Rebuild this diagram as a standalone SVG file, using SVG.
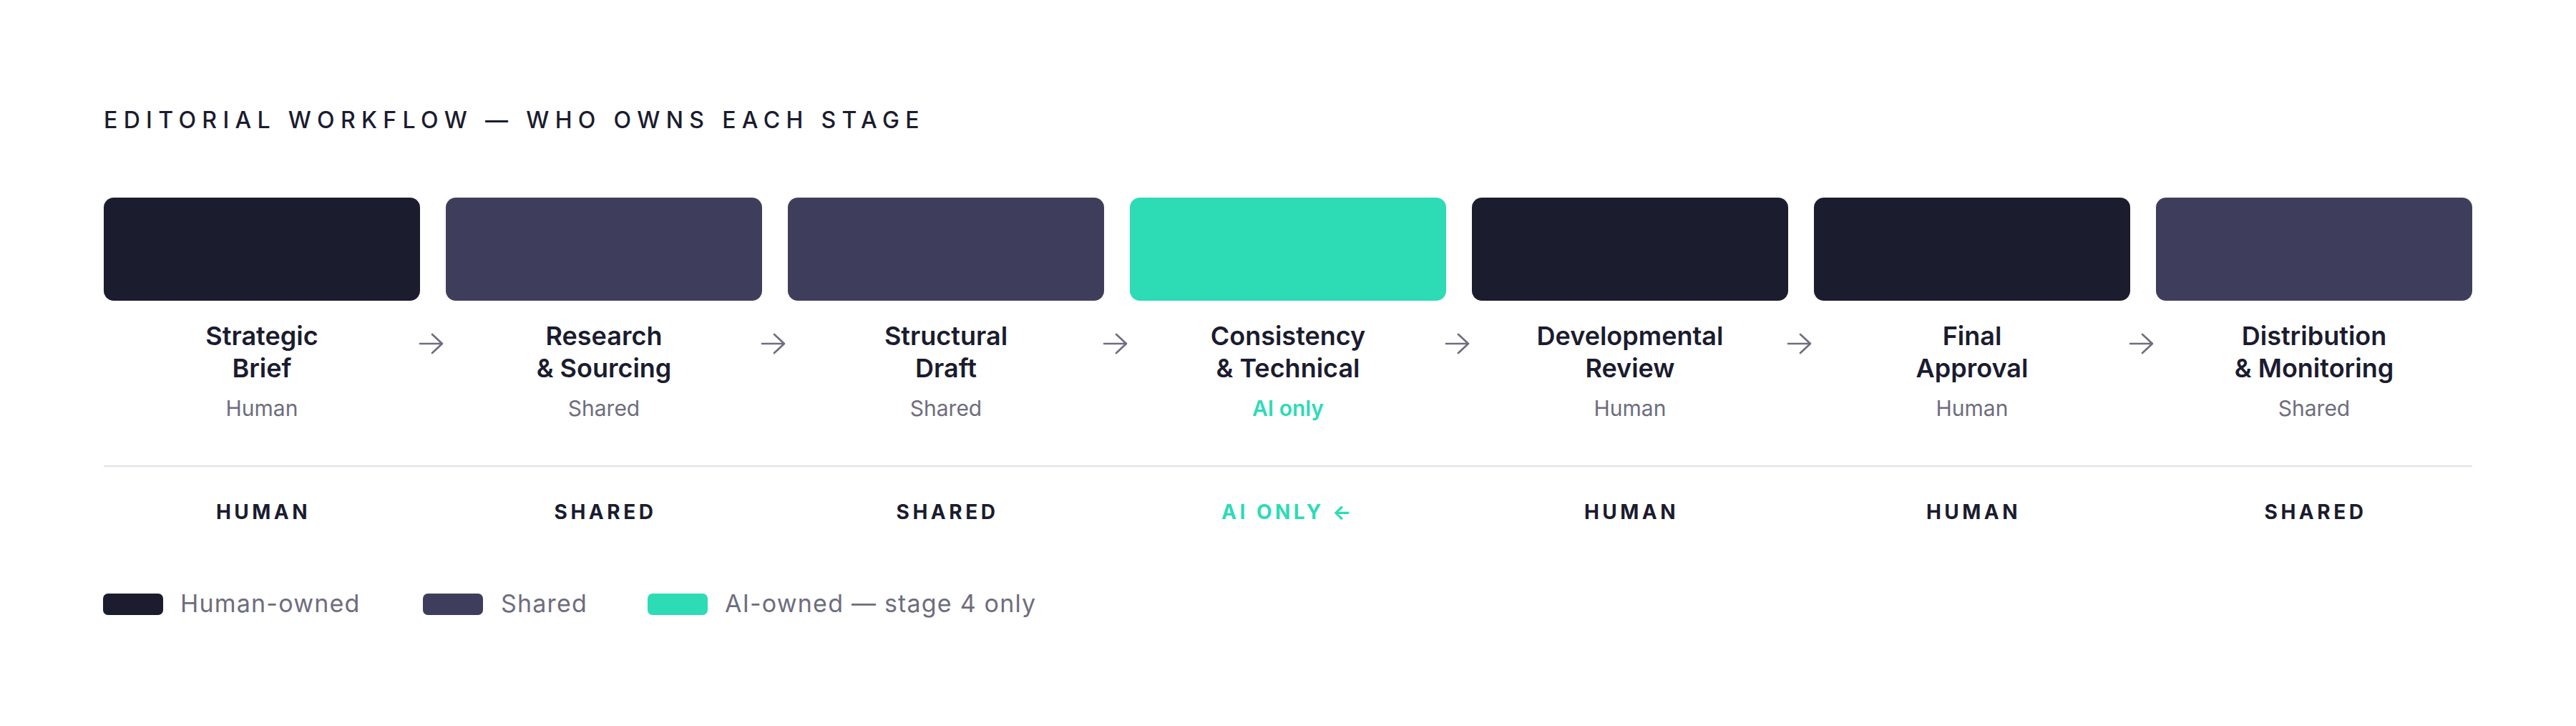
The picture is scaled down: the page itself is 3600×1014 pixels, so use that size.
<svg xmlns="http://www.w3.org/2000/svg" width="3600" height="1014" viewBox="0 0 3600 1014">
<defs>
<style>
.t{font-family:Inter,"DejaVu Sans",sans-serif;}
.title{font-size:32px;font-weight:500;letter-spacing:8.35px;fill:#1b1c2e;}
.name{font-size:36px;font-weight:600;fill:#1b1c2e;text-anchor:middle;}
.sub{font-size:30px;font-weight:400;fill:#6e6d7d;text-anchor:middle;}
.subai{font-size:30px;font-weight:600;fill:#2ddbb5;text-anchor:middle;}
.own{font-size:28px;font-weight:700;letter-spacing:4.5px;fill:#1b1c2e;text-anchor:middle;}
.ownai{font-size:28px;font-weight:700;letter-spacing:4.5px;fill:#2ddbb5;text-anchor:middle;}
.leg{font-size:34px;font-weight:400;letter-spacing:1.2px;fill:#6e6d7d;}
.human{fill:#1b1c2e;}
.shared{fill:#3e3e5c;}
.ai{fill:#2ddbb5;}
.arr{fill:none;stroke:#6f6e80;stroke-width:2.7;stroke-linecap:round;stroke-linejoin:round;}
</style>
</defs>
<rect width="3600" height="1014" fill="#ffffff"/>
<text class="t title" x="145" y="179">EDITORIAL WORKFLOW — WHO OWNS EACH STAGE</text>

<g id="stage1">
<rect class="human" x="145" y="276" width="442" height="144" rx="14"/>
<text class="t name" x="366" y="482">Strategic</text>
<text class="t name" x="366" y="527">Brief</text>
<text class="t sub" x="366" y="581">Human</text>
</g>
<g id="stage2">
<rect class="shared" x="623" y="276" width="442" height="144" rx="14"/>
<text class="t name" x="844" y="482">Research</text>
<text class="t name" x="844" y="527">&amp; Sourcing</text>
<text class="t sub" x="844" y="581">Shared</text>
</g>
<g id="stage3">
<rect class="shared" x="1101" y="276" width="442" height="144" rx="14"/>
<text class="t name" x="1322" y="482">Structural</text>
<text class="t name" x="1322" y="527">Draft</text>
<text class="t sub" x="1322" y="581">Shared</text>
</g>
<g id="stage4">
<rect class="ai" x="1579" y="276" width="442" height="144" rx="14"/>
<text class="t name" x="1800" y="482">Consistency</text>
<text class="t name" x="1800" y="527">&amp; Technical</text>
<text class="t subai" x="1800" y="581">AI only</text>
</g>
<g id="stage5">
<rect class="human" x="2057" y="276" width="442" height="144" rx="14"/>
<text class="t name" x="2278" y="482">Developmental</text>
<text class="t name" x="2278" y="527">Review</text>
<text class="t sub" x="2278" y="581">Human</text>
</g>
<g id="stage6">
<rect class="human" x="2535" y="276" width="442" height="144" rx="14"/>
<text class="t name" x="2756" y="482">Final</text>
<text class="t name" x="2756" y="527">Approval</text>
<text class="t sub" x="2756" y="581">Human</text>
</g>
<g id="stage7">
<rect class="shared" x="3013" y="276" width="442" height="144" rx="14"/>
<text class="t name" x="3234" y="482">Distribution</text>
<text class="t name" x="3234" y="527">&amp; Monitoring</text>
<text class="t sub" x="3234" y="581">Shared</text>
</g>

<g id="connectors">
<path class="arr" d="M587 480H618M604 467L618 480L604 493"/>
<path class="arr" d="M1065 480H1096M1082 467L1096 480L1082 493"/>
<path class="arr" d="M1543 480H1574M1560 467L1574 480L1560 493"/>
<path class="arr" d="M2021 480H2052M2038 467L2052 480L2038 493"/>
<path class="arr" d="M2499 480H2530M2516 467L2530 480L2516 493"/>
<path class="arr" d="M2977 480H3008M2994 467L3008 480L2994 493"/>
</g>

<line x1="145" y1="651" x2="3455" y2="651" stroke="#e4e4ea" stroke-width="2.5"/>

<g id="owners">
<text class="t own" x="368" y="725">HUMAN</text>
<text class="t own" x="846" y="725">SHARED</text>
<text class="t own" x="1324" y="725">SHARED</text>
<text class="t ownai" x="1800" y="725">AI ONLY ←</text>
<text class="t own" x="2280" y="725">HUMAN</text>
<text class="t own" x="2758" y="725">HUMAN</text>
<text class="t own" x="3236" y="725">SHARED</text>
</g>

<g id="legend">
<rect class="human" x="144" y="829" width="84" height="30" rx="7"/>
<text class="t leg" x="252" y="855">Human-owned</text>
<rect class="shared" x="591" y="829" width="84" height="30" rx="7"/>
<text class="t leg" x="700" y="855">Shared</text>
<rect class="ai" x="905" y="829" width="84" height="30" rx="7"/>
<text class="t leg" x="1013" y="855">AI-owned — stage 4 only</text>
</g>
</svg>
